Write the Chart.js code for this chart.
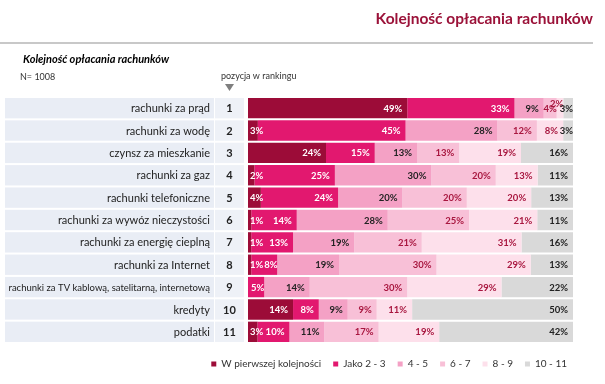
<!DOCTYPE html>
<html>
<head>
<meta charset="utf-8">
<script src="https://cdn.jsdelivr.net/npm/chart.js@4.4.0/dist/chart.umd.min.js"></script>
<style>
  body { margin: 0; background: #fff; }
</style>
</head>
<body>
<canvas id="myChart" width="605" height="384"></canvas>
<script>
'use strict'

// DATA
const categories = ['rachunki za prąd', 'rachunki za wodę', 'czynsz za mieszkanie', 'rachunki za gaz',
  'rachunki telefoniczne', 'rachunki za wywóz nieczystości', 'rachunki za energię cieplną',
  'rachunki za Internet', 'rachunki za TV kablową, satelitarną, internetową', 'kredyty', 'podatki'];
const ranks = ['1', '2', '3', '4', '5', '6', '7', '8', '9', '10', '11'];
const seriesNames = ['W pierwszej kolejności', 'Jako 2 - 3', '4 - 5', '6 - 7', '8 - 9', '10 - 11'];

const first = [49, 3, 24, 2, 4, 1, 1, 1, 0, 14, 3];
const pos23 = [33, 45, 15, 25, 24, 14, 13, 8, 5, 8, 10];
const pos45 = [9, 28, 13, 30, 20, 28, 19, 19, 14, 9, 11];
const pos67 = [4, 12, 13, 20, 20, 25, 21, 30, 30, 9, 17];
const pos89 = [2, 8, 19, 13, 20, 21, 31, 29, 29, 11, 19];
const pos1011 = [3, 3, 16, 11, 13, 11, 16, 13, 22, 50, 42];

const allSeries = [first, pos23, pos45, pos67, pos89, pos1011];
const colors = ['#9c0c38', '#e2186f', '#f4a1c5', '#f8c0d7', '#fde0eb', '#d9d9d9'];
const labelColors = ['#ffffff', '#ffffff', '#222222', '#a8163f', '#a8163f', '#222222'];

const FONT = 'Lato, "Open Sans", sans-serif';

// 100% stacked: every row is scaled to its own total
let rowTotals = categories.map((c, i) => allSeries.reduce((s, arr) => s + arr[i], 0));

let datasets = allSeries.map((arr, k) => ({
  label: seriesNames[k],
  data: arr.map((v, i) => v / rowTotals[i] * 100),
  backgroundColor: colors[k],
  borderWidth: 0,
  categoryPercentage: 1,
  barPercentage: 0.91
}));

// draws the header, label table and value labels
const decorations = {
  id: 'decorations',
  beforeDraw(chart) {
    const ctx = chart.ctx;
    ctx.save();

    // header
    ctx.fillStyle = '#9b1239';
    ctx.font = 'bold 15.5px ' + FONT;
    ctx.textAlign = 'right';
    ctx.textBaseline = 'middle';
    ctx.fillText('Kolejność opłacania rachunków', 593, 19);

    ctx.fillStyle = '#c8c8c8';
    ctx.fillRect(0, 42, 593, 2);

    ctx.fillStyle = '#000';
    ctx.textAlign = 'left';
    ctx.font = 'italic bold 11px ' + FONT;
    ctx.fillText('Kolejność opłacania rachunków', 23, 59);

    ctx.fillStyle = '#333';
    ctx.font = '9px ' + FONT;
    ctx.fillText('N= 1008', 20, 77);
    ctx.fillText('pozycja w rankingu', 221, 76);

    ctx.fillStyle = '#7f7f7f';
    ctx.beginPath();
    ctx.moveTo(225, 84);
    ctx.lineTo(234, 84);
    ctx.lineTo(229.5, 91);
    ctx.closePath();
    ctx.fill();

    // label cells
    const meta = chart.getDatasetMeta(0);
    for (let i = 0; i < categories.length; i++) {
      let bar = meta.data[i];
      let top = bar.y - bar.height / 2;
      let h = bar.height;
      ctx.fillStyle = '#e9edf5';
      ctx.fillRect(5, top, 209, h);
      ctx.fillStyle = '#eef1f7';
      ctx.fillRect(215, top, 29, h);

      ctx.fillStyle = '#222';
      let size = 11;
      ctx.font = size + 'px ' + FONT;
      while (ctx.measureText(categories[i]).width > 203 && size > 7) {
        size -= 0.5;
        ctx.font = size + 'px ' + FONT;
      }
      ctx.textAlign = 'right';
      ctx.fillText(categories[i], 210, bar.y + 0.5);

      ctx.font = 'bold 11px ' + FONT;
      ctx.textAlign = 'center';
      ctx.fillText(ranks[i], 229.5, bar.y + 0.5);
    }
    ctx.restore();
  },
  afterDatasetsDraw(chart) {
    const ctx = chart.ctx;
    ctx.save();
    ctx.font = 'bold 9.5px ' + FONT;
    ctx.textAlign = 'left';
    ctx.textBaseline = 'middle';
    const left = chart.chartArea.left;
    for (let i = 0; i < categories.length; i++) {
      let prevRight = -1;
      for (let k = 0; k < allSeries.length; k++) {
        let v = allSeries[k][i];
        if (!v) continue;
        let bar = chart.getDatasetMeta(k).data[i];
        let segW = Math.abs(bar.x - bar.base);
        let txt = v + '%';
        let w = ctx.measureText(txt).width;
        // inside end, or flush with the end when the segment is too narrow
        let narrow = w + 8 > segW;
        let right = narrow ? bar.x : bar.x - 5;
        let x = Math.max(right - w, left + 2);
        let y = bar.y + 0.5;
        let raised = false;
        if (x < prevRight) {
          if (narrow) {
            raised = true;
            y -= 5;
          } else {
            x = prevRight + 1;
          }
        }
        ctx.fillStyle = labelColors[k];
        ctx.fillText(txt, x, y);
        if (!raised) prevRight = x + w;
      }
    }
    ctx.restore();
  }
};

const config = {
  type: 'bar',
  data: {
    labels: categories,
    datasets: datasets
  },
  options: {
    indexAxis: 'y',
    responsive: false,
    animation: false,
    layout: {
      padding: { left: 150, right: 26, top: 97, bottom: 5 }
    },
    scales: {
      x: {
        stacked: true, min: 0, max: 100,
        grid: { display: false }, border: { display: false }, ticks: { display: false },
        afterFit(scale) { scale.height = 4; }
      },
      y: {
        stacked: true,
        grid: { display: false }, border: { display: false }, ticks: { display: false },
        afterFit(scale) { scale.width = 98; }
      },
      // empty strip on the right so the legend can reach past the bars
      yRight: {
        type: 'category',
        axis: 'y',
        position: 'right',
        labels: categories,
        grid: { display: false }, border: { display: false }, ticks: { display: false },
        afterFit(scale) { scale.width = 6; }
      }
    },
    plugins: {
      legend: {
        position: 'bottom',
        align: 'end',
        labels: {
          boxWidth: 5,
          boxHeight: 5,
          padding: 12,
          color: '#333',
          font: { family: FONT, size: 10 }
        }
      },
      tooltip: { enabled: false }
    }
  },
  plugins: [decorations]
};

let canvasChart = document.getElementById('myChart');
const myChart = new Chart(canvasChart, config);
</script>
</body>
</html>
